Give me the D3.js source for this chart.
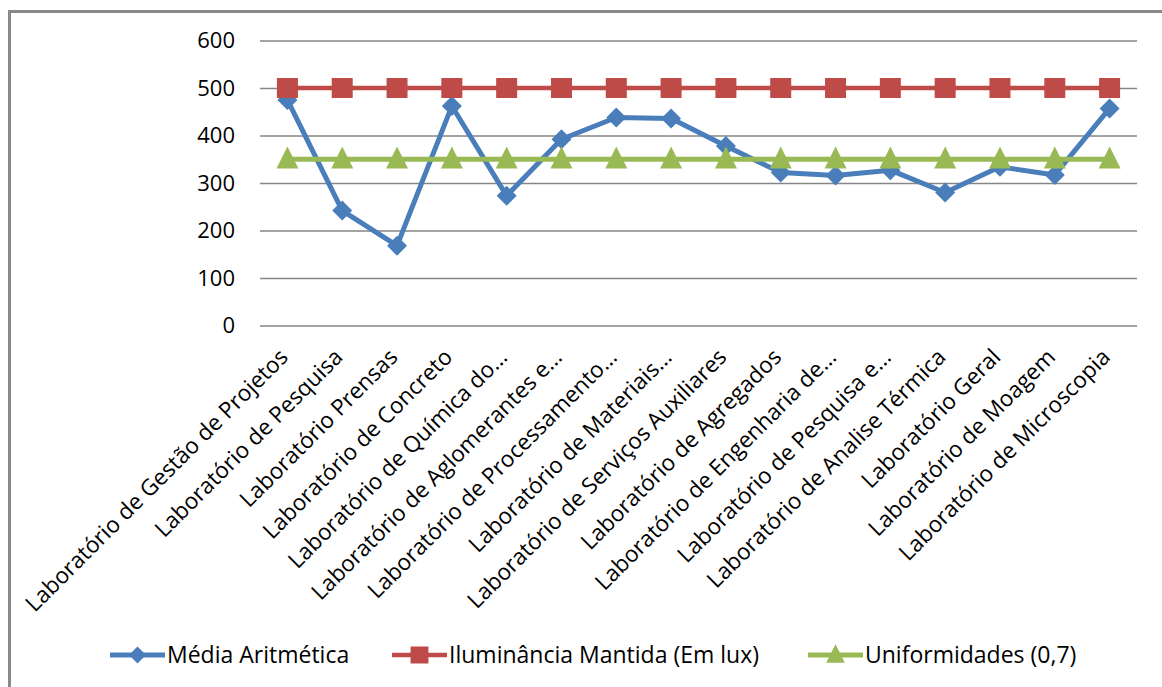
<!DOCTYPE html>
<html>
<head>
<meta charset="utf-8">
<script src="https://cdn.jsdelivr.net/npm/d3@7"></script>
<style>
  html, body { margin: 0; padding: 0; background: #fff; }
  svg { display: block; }
  text { font-family: "Open Sans", Lato, sans-serif; fill: #000; }
</style>
</head>
<body>
<svg id="chart" width="1162" height="687"></svg>
<script>
const categories = [
  "Laboratório de Gestão de Projetos",
  "Laboratório de Pesquisa",
  "Laboratório Prensas",
  "Laboratório de Concreto",
  "Laboratório de Química do…",
  "Laboratório de Aglomerantes e…",
  "Laboratório de Processamento…",
  "Laboratório de Materiais…",
  "Laboratório de Serviços Auxiliares",
  "Laboratório de Agregados",
  "Laboratório de Engenharia de…",
  "Laboratório de Pesquisa e…",
  "Laboratório de Analise Térmica",
  "Laboratório Geral",
  "Laboratório de Moagem",
  "Laboratório de Microscopia"
];
const mediaAritmetica = [475, 242, 168, 462, 273, 392, 438, 436, 378, 322, 316, 327, 280, 334, 317, 457];
const iluminanciaMantida = [500, 500, 500, 500, 500, 500, 500, 500, 500, 500, 500, 500, 500, 500, 500, 500];
const uniformidades = [350, 350, 350, 350, 350, 350, 350, 350, 350, 350, 350, 350, 350, 350, 350, 350];
const yTicks = [0, 100, 200, 300, 400, 500, 600];
const seriesNames = ["Média Aritmética", "Iluminância Mantida (Em lux)", "Uniformidades (0,7)"];

const FONT = "'Open Sans', Lato, sans-serif";
const svg = d3.select("#chart");

// outer chart border (only top and left visible in frame)
svg.append("rect")
  .attr("x", 9.5).attr("y", 11.5)
  .attr("width", 1200).attr("height", 700)
  .attr("fill", "none").attr("stroke", "#898989").attr("stroke-width", 3);

const plot = { left: 260, right: 1137, top: 40.5, bottom: 325.5 };

const x = d3.scaleBand().domain(categories).range([plot.left, plot.right]).paddingInner(0).paddingOuter(0);
const y = d3.scaleLinear().domain([0, 600]).range([plot.bottom, plot.top]);
const cx = d => x(d) + x.bandwidth() / 2;

// gridlines
const yAxis = d3.axisLeft(y).tickValues(yTicks).tickSize(-(plot.right - plot.left)).tickPadding(25).tickFormat(d3.format("d"));
const gy = svg.append("g").attr("transform", `translate(${plot.left},0)`).call(yAxis);
gy.select(".domain").remove();
gy.selectAll(".tick line").attr("stroke", "#868686").attr("stroke-width", 1.5);
gy.selectAll(".tick text").attr("font-size", 22).attr("fill", "#000").attr("font-family", FONT);

// x labels
const xAxis = d3.axisBottom(x).tickSize(0).tickPadding(0);
const gx = svg.append("g").attr("transform", `translate(0,${plot.bottom})`).call(xAxis);
gx.select(".domain").remove();
gx.selectAll(".tick text")
  .attr("font-size", 22.5)
  .attr("font-family", FONT)
  .attr("fill", "#000")
  .attr("text-anchor", "end")
  .attr("dy", 0)
  .attr("y", 0)
  .attr("transform", "translate(2,33) rotate(-45)");

const line = d3.line().x((d, i) => cx(categories[i])).y(d => y(d));

const colors = ["#4a7ebb", "#be4b48", "#98b954"];
const data = [mediaAritmetica, iluminanciaMantida, uniformidades];
const lineWidths = [5, 4.5, 5];

function marker(g, type, color, px, py, scale) {
  const s = scale || 1;
  if (type === 0) {
    const r = 10 * s;
    g.append("path").attr("d", `M${px},${py - r}L${px + r},${py}L${px},${py + r}L${px - r},${py}Z`).attr("fill", color);
  } else if (type === 1) {
    const h = 10.5 * s;
    g.append("rect").attr("x", px - h).attr("y", py - 10 * s).attr("width", 2 * h).attr("height", 20 * s).attr("fill", color);
  } else {
    const w = 11 * s, h = 22 * s;
    g.append("path").attr("d", `M${px},${py - h * 0.58}L${px + w},${py + h * 0.42}L${px - w},${py + h * 0.42}Z`).attr("fill", color);
  }
}

data.forEach((vals, si) => {
  const g = svg.append("g");
  g.append("path").datum(vals).attr("d", line).attr("fill", "none")
    .attr("stroke", colors[si]).attr("stroke-width", lineWidths[si]).attr("stroke-linejoin", "round");
  vals.forEach((v, i) => marker(g, si, colors[si], cx(categories[i]), y(v)));
});

// legend
const legendItems = [
  { x0: 110, x1: 165, tx: 167 },
  { x0: 392, x1: 447, tx: 449 },
  { x0: 808, x1: 863, tx: 865 }
];
const ly = 655;
legendItems.forEach((it, i) => {
  const g = svg.append("g");
  g.append("line").attr("x1", it.x0).attr("x2", it.x1).attr("y1", ly).attr("y2", ly)
    .attr("stroke", colors[i]).attr("stroke-width", lineWidths[i]);
  marker(g, i, colors[i], (it.x0 + it.x1) / 2, ly, 0.85);
  g.append("text").attr("x", it.tx).attr("y", ly).attr("dy", "0.36em")
    .attr("font-size", 23).attr("font-family", FONT).text(seriesNames[i]);
});
</script>
</body>
</html>
